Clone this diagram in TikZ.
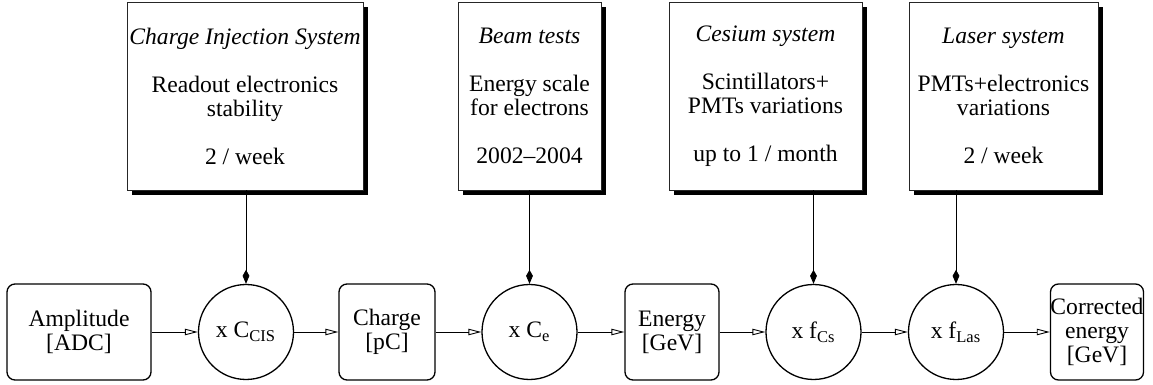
\documentclass[tikz,border=0pt]{standalone}
\usepackage{fontspec}
\setmainfont{Liberation Serif}
\usetikzlibrary{arrows.meta,shadows}
\begin{document}
\begin{tikzpicture}[x=0.5pt,y=-0.5pt,
  every node/.style={font=\fontsize{11.8}{12}\selectfont, inner sep=0pt},
  srcbox/.style={draw=black!85, line width=0.4pt, fill=white, minimum height=94pt, align=center,
    drop shadow={shadow xshift=2.5pt, shadow yshift=-2.5pt, fill=black, opacity=1}},
  qbox/.style={draw, line width=0.65pt, rounded corners=4pt, minimum height=48pt, align=center},
  mult/.style={draw, circle, line width=0.65pt, minimum size=47.5pt},
  flow/.style={line width=0.45pt, -{Triangle[open, length=6.5pt, width=3.2pt]}},
  feed/.style={line width=0.45pt, -{Kite[length=7pt, width=3.4pt, inset=3pt]}}
]
\useasboundingbox (0,0) rectangle (1153,385);

% top source boxes
\node[srcbox, minimum width=118pt] (b1) at (245,96) {\itshape Charge Injection System\\[12pt] Readout electronics\\ stability\\[12pt] 2 / week};
\node[srcbox, minimum width=71.5pt] (b2) at (529.5,96) {\itshape Beam tests\\[12pt] Energy scale\\ for electrons\\[12pt] 2002\textendash 2004};
\node[srcbox, minimum width=96.5pt] (b3) at (765.5,96) {\itshape Cesium system\\[12pt] Scintillators+\\ PMTs variations\\[12pt] up to 1 / month};
\node[srcbox, minimum width=94.5pt] (b4) at (1003.5,96) {\itshape Laser system\\[12pt] PMTs+electronics\\ variations\\[12pt] 2 / week};

% bottom chain
\node[qbox, minimum width=72pt] (amp) at (79,332) {Amplitude\\ {[ADC]}};
\node[mult] (cis) at (246,332) {x C\textsubscript{CIS}};
\node[qbox, minimum width=48pt] (chg) at (387,332) {Charge\\ {[pC]}};
\node[mult] (ce) at (529.5,332) {x C\textsubscript{e}};
\node[qbox, minimum width=47pt] (en) at (672,332) {Energy\\ {[GeV]}};
\node[mult] (cs) at (813.5,332) {x f\textsubscript{Cs}};
\node[mult] (las) at (956,332) {x f\textsubscript{Las}};
\node[qbox, minimum width=46pt] (cor) at (1097,332) {Corrected\\ energy\\ {[GeV]}};

\draw[flow] (amp) -- (cis);
\draw[flow] (cis) -- (chg);
\draw[flow] (chg) -- (ce);
\draw[flow] (ce) -- (en);
\draw[flow] (en) -- (cs);
\draw[flow] (cs) -- (las);
\draw[flow] (las) -- (cor);

\draw[feed] (b1.south -| cis.north) -- (cis.north);
\draw[feed] (b2.south -| ce.north) -- (ce.north);
\draw[feed] (b3.south -| cs.north) -- (cs.north);
\draw[feed] (b4.south -| las.north) -- (las.north);
\end{tikzpicture}
\end{document}
